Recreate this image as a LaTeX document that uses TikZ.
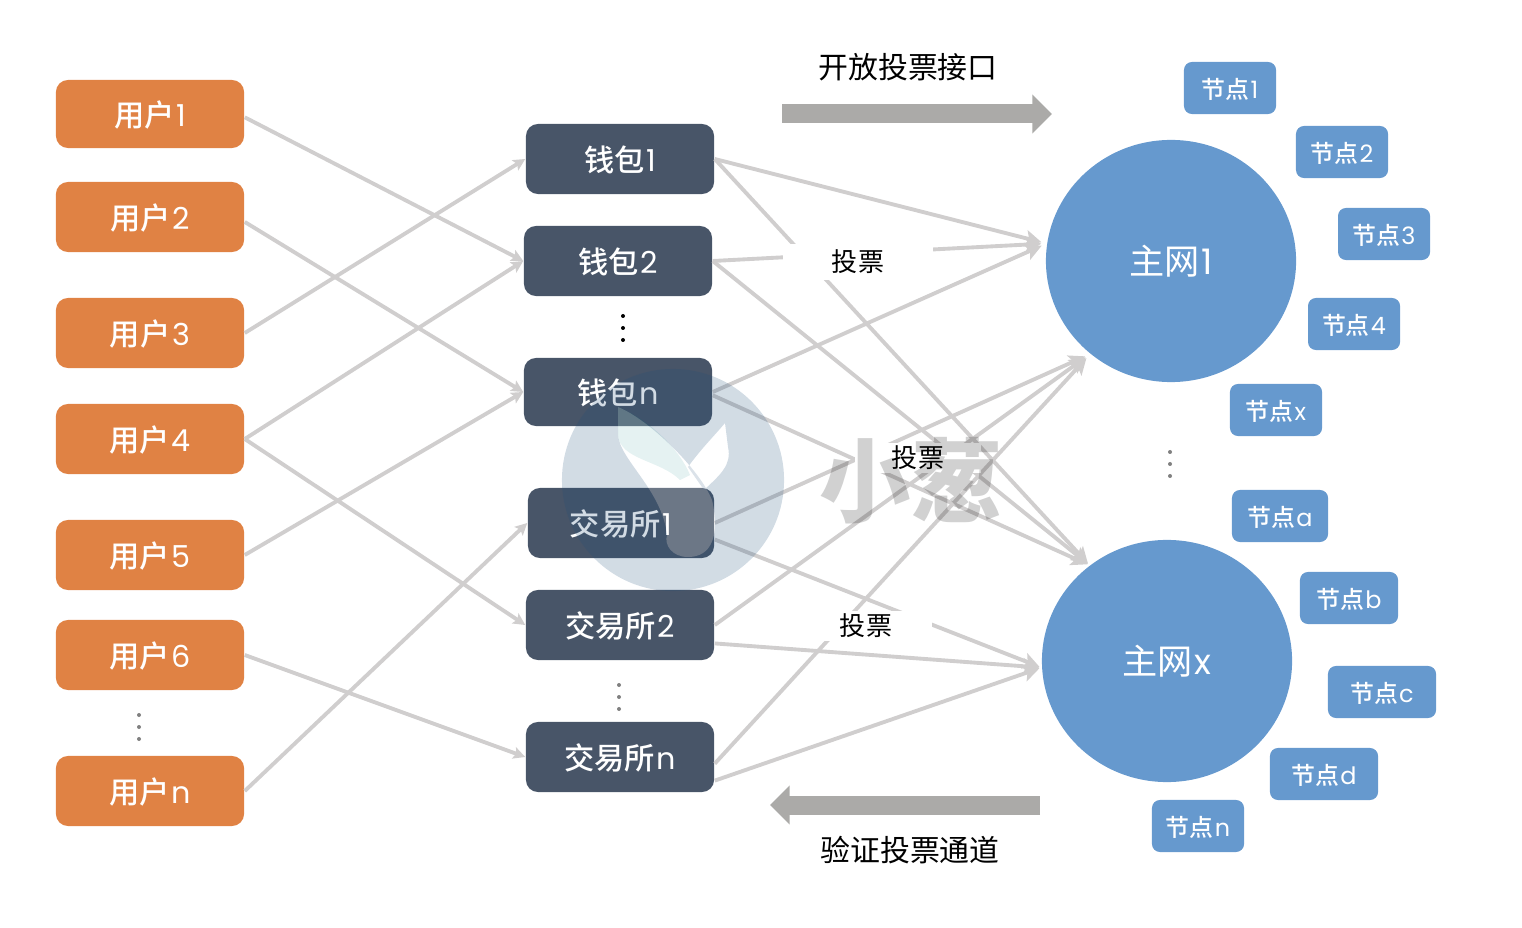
\documentclass[tikz,border=0pt]{standalone}
\usepackage{fontspec}
\usepackage{tikz}
\usetikzlibrary{arrows.meta,shapes.geometric}
\newfontfamily\cjk{Noto Sans CJK SC}
\newfontfamily\cjkm{Noto Sans CJK SC Medium}
\newfontfamily\lat{Poppins}
\definecolor{orangebox}{HTML}{E08244}
\definecolor{darkbox}{HTML}{485568}
\definecolor{bluebox}{HTML}{6699CE}
\definecolor{edgegray}{HTML}{D0CECE}
\definecolor{biggray}{HTML}{ABAAA8}
\definecolor{markblue}{HTML}{1F4E79}
\tikzstyle{user}=[rectangle,rounded corners=0.12cm,fill=orangebox,text=white,minimum width=1.88cm,inner sep=0pt,text height=9pt,text depth=1.9pt,font=\cjkm\fontsize{8.6}{10}\selectfont]
\tikzstyle{wallet}=[rectangle,rounded corners=0.12cm,fill=darkbox,text=white,inner sep=0pt,text height=9pt,text depth=1.9pt,font=\cjkm\fontsize{8.6}{10}\selectfont]
\tikzstyle{peer}=[rectangle,rounded corners=0.08cm,fill=bluebox,text=white,minimum height=0.52cm,inner sep=0pt,text height=7.4pt,text depth=1.4pt,font=\cjkm\fontsize{6.8}{8}\selectfont]
\tikzstyle{net}=[ellipse,fill=bluebox,text=white,minimum width=2.50cm,minimum height=2.42cm,inner sep=0pt,font=\cjk\fontsize{10}{12}\selectfont]
\tikzstyle{vote}=[rectangle,fill=white,inner sep=0pt,font=\cjk\fontsize{7.4}{9}\selectfont]
\tikzstyle{caption}=[inner sep=0pt,font=\cjk\fontsize{8.5}{10}\selectfont]
\tikzstyle{dot}=[circle,minimum size=0.04cm,inner sep=0pt]
\tikzstyle{edge}=[draw=edgegray,line width=1.1pt,-{Stealth[length=3.4pt,width=3.4pt,inset=0.7pt]}]
\tikzstyle{bigedge}=[draw=edgegray,line width=1.1pt,-{Stealth[length=4.6pt,width=4.6pt,inset=1pt]}]
\tikzstyle{bigarrow}=[draw=biggray,line width=5.4pt,-{Triangle[length=5.6pt,width=10.8pt]}]
\begin{document}
\begin{tikzpicture}[x=0.01cm,y=-0.01cm]
    \useasboundingbox (0,0) rectangle (1522,928);
    % First we draw the boxes
    \foreach \pos/\name/\lab/\h in {{(150,114)/u1/1/0.68}, {(150,217)/u2/2/0.70}, {(150,333)/u3/3/0.70}, {(150,439)/u4/4/0.70}, {(150,555)/u5/5/0.70}, {(150,655)/u6/6/0.70}, {(150,791)/un/n/0.70}}
        \node[user,minimum height=\h cm] (\name) at \pos {用户\kern0.5pt{\lat\lab}};
    \foreach \pos/\name/\lab/\w/\h in {{(620,159)/w1/钱包\kern0.5pt{\lat 1}/1.88/0.70}, {(618,261)/w2/钱包\kern0.5pt{\lat 2}/1.88/0.70}, {(618,392)/wn/钱包\kern0.5pt{\lat n}/1.88/0.68}, {(621,523)/e1/交易所\kern0.5pt{\lat 1}/1.86/0.70}, {(620,625)/e2/交易所\kern0.5pt{\lat 2}/1.88/0.70}, {(620,757)/en/交易所\kern0.5pt{\lat n}/1.88/0.70}}
        \node[wallet,minimum width=\w cm,minimum height=\h cm] (\name) at \pos {\lab};
    \node[net] (net1) at (1171,261) {主网\kern0.5pt{\lat 1}};
    \node[net] (netx) at (1167,661) {主网\kern0.5pt{\lat x}};
    \foreach \pos/\name/\lab/\w in {{(1230,88)/p1/1/0.92}, {(1342,152)/p2/2/0.92}, {(1384,234)/p3/3/0.92}, {(1354,324)/p4/4/0.92}, {(1276,410)/px/x/0.92}, {(1280,516)/pa/a/0.96}, {(1349,598)/pb/b/0.98}, {(1382,692)/pc/c/1.08}, {(1324,774)/pd/d/1.08}, {(1198,826)/pn/n/0.92}}
        \node[peer,minimum width=\w cm] (\name) at \pos {节点\kern0.3pt{\lat\lab}};
    % Vertical dots
    \foreach \pos/\name/\col in {{(623,328)/a/black}, {(139,727)/b/gray}, {(619,697)/c/gray}, {(1170,464)/d/gray}}
        \foreach \k in {-12,0,12}
            \node[dot,fill=\col,yshift=-\k*0.01cm] (dot\name\k) at \pos {};
    % Connect boxes with edges
    \foreach \source/\dest in {u1.-2/w2.west, u2.-3/wn.west, u3.east/w1.west, u4.east/w2.west, u4.east/e2.west, u5.east/wn.west, u6.east/en.west, un.east/e1.west}
        \path[edge] (\source) -- (\dest);
    \foreach \source/\dest in {w1.east/net1.172, w2.east/net1.172, wn.east/net1.172, e1.east/net1.229, e2.east/net1.229, en.-4/net1.229}
        \path[bigedge,shorten >=1.5pt] (\source) -- (\dest);
    \foreach \source/\dest in {w1.east/netx.129, w2.east/netx.129, wn.-2/netx.129, e1.-10/netx.183, e2.-11/netx.183, en.-14/netx.183}
        \path[bigedge,shorten >=0.6pt] (\source) -- (\dest);
    % The vote labels sit on white and cut the edges
    \node[vote,minimum width=1.50cm,minimum height=0.35cm] (vote1) at (858,262) {投票};
    \node[vote,minimum width=1.26cm,minimum height=0.29cm] (vote2) at (918,458) {投票};
    \node[vote,minimum width=1.32cm,minimum height=0.30cm] (vote3) at (866,626) {投票};
    % Channels
    \coordinate (opena) at (782,114);
    \coordinate (openb) at (1052,114);
    \coordinate (checka) at (1040,805);
    \coordinate (checkb) at (770,805);
    \draw[bigarrow] (opena) -- (openb);
    \draw[bigarrow] (checka) -- (checkb);
    \node[caption] (opentext) at (908,67) {开放投票接口};
    \node[caption] (checktext) at (910,850) {验证投票通道};
    % Watermark on top of everything
    \fill[markblue,opacity=0.2,even odd rule] (673,480) circle (1.11cm)
        (618,407) .. controls (650,420) and (700,470) .. (712,500) .. controls (720,535) and (712,557) .. (688,557) .. controls (672,557) and (664,545) .. (667,535) .. controls (662,490) and (620,460) .. (618,435) -- cycle
        (725,423) .. controls (715,435) and (700,450) .. (688,467) -- (704,490) .. controls (720,475) and (732,465) .. (728,447) -- cycle;
    \fill[white,opacity=0.2] (618,407) .. controls (650,420) and (700,470) .. (712,500) .. controls (720,535) and (712,557) .. (688,557) .. controls (672,557) and (664,545) .. (667,535) .. controls (662,490) and (620,460) .. (618,435) -- cycle;
    \fill[teal,opacity=0.1] (618,407) .. controls (650,420) and (680,450) .. (690,475) -- (680,480) .. controls (660,460) and (620,460) .. (618,435) -- cycle;
    \node[text=black,text opacity=0.18,inner sep=0pt,font=\cjk\bfseries\fontsize{26}{30}\selectfont] (mark) at (911,481) {小葱};
\end{tikzpicture}
\end{document}
